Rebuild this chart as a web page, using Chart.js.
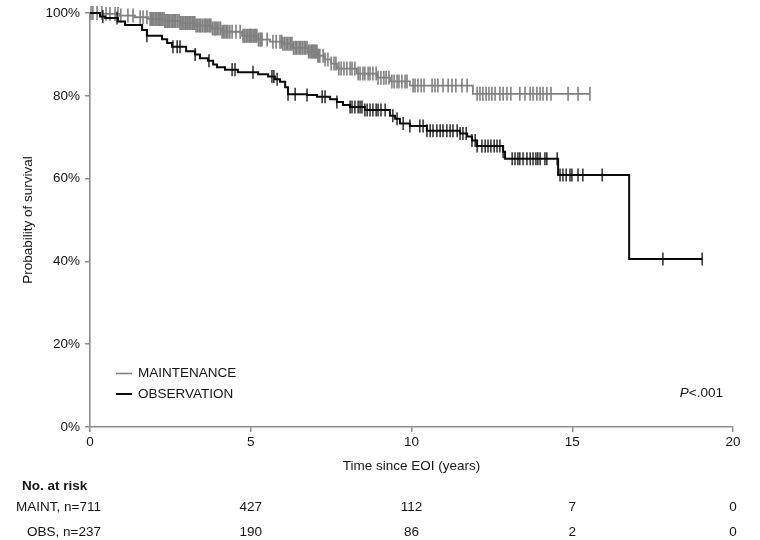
<!DOCTYPE html>
<html>
<head>
<meta charset="utf-8">
<script src="https://cdn.jsdelivr.net/npm/chart.js@4"></script>
<style>
  html, body { margin: 0; padding: 0; background: #fff; }
  #wrap { width: 760px; height: 540px; }
</style>
</head>
<body>
<div id="wrap"><canvas id="c" width="760" height="540"></canvas></div>
<script>
// ---- Data (time in years, survival in %) ----
const obsTimes = [0, 0.31, 0.47, 0.87, 1.09, 1.62, 1.77, 2.24, 2.40, 2.55, 2.99, 3.27, 3.42, 3.67, 3.83, 3.95, 4.20, 4.60, 5.23, 5.54, 5.75, 5.91, 6.07, 6.16, 6.75, 7.06, 7.47, 7.68, 7.87, 8.09, 8.55, 9.33, 9.49, 9.64, 9.95, 10.48, 11.51, 11.73, 11.88, 12.04, 12.85, 12.91, 14.56, 16.77, 19.04];
const obsSurv  = [100, 99.2, 98.8, 98.0, 97.1, 95.9, 94.5, 93.7, 92.8, 91.9, 90.8, 90.0, 89.1, 88.5, 87.6, 86.9, 86.3, 85.7, 85.2, 84.7, 84.0, 83.4, 82.1, 80.4, 80.2, 79.8, 79.2, 78.5, 77.8, 77.3, 76.6, 75.2, 74.5, 73.3, 72.7, 71.6, 70.9, 70.2, 69.2, 67.9, 66.5, 64.8, 60.9, 40.6, 40.6];
const obsCensor = [0.40, 0.84, 1.77, 2.58, 2.71, 2.80, 3.27, 3.70, 4.42, 4.51, 5.07, 5.66, 5.72, 5.82, 6.16, 6.38, 6.75, 7.22, 7.31, 7.68, 8.09, 8.15, 8.24, 8.34, 8.40, 8.46, 8.55, 8.62, 8.71, 8.80, 8.90, 8.96, 9.05, 9.18, 9.42, 9.55, 9.74, 9.95, 10.26, 10.36, 10.48, 10.58, 10.67, 10.79, 10.89, 10.98, 11.10, 11.20, 11.29, 11.42, 11.51, 11.60, 11.70, 11.88, 11.98, 12.04, 12.19, 12.29, 12.38, 12.47, 12.57, 12.66, 12.75, 12.85, 13.13, 13.22, 13.31, 13.37, 13.47, 13.59, 13.69, 13.78, 13.87, 13.93, 14.00, 14.15, 14.21, 14.53, 14.62, 14.71, 14.81, 14.93, 14.99, 15.18, 15.33, 15.93, 17.82, 19.04];

const maintTimes = [0, 0.40, 0.93, 1.40, 1.80, 2.33, 2.80, 3.27, 3.79, 4.11, 4.73, 5.23, 5.60, 6.00, 6.31, 6.78, 7.09, 7.31, 7.50, 7.68, 8.30, 8.93, 9.33, 9.95, 11.91, 15.55];
const maintSurv  = [100, 99.8, 99.4, 99.0, 98.6, 98.1, 97.6, 97.0, 96.3, 95.5, 94.5, 93.6, 93.1, 92.6, 91.6, 90.7, 89.7, 88.8, 87.8, 86.6, 85.4, 84.4, 83.5, 82.5, 80.5, 80.5];
const maintCensor = [0.03, 0.09, 0.22, 0.37, 0.50, 0.62, 0.78, 0.87, 0.96, 1.18, 1.34, 1.56, 1.65, 1.77, 1.87, 1.90, 1.93, 1.96, 1.99, 2.04, 2.08, 2.12, 2.15, 2.18, 2.21, 2.25, 2.30, 2.33, 2.36, 2.40, 2.43, 2.47, 2.52, 2.56, 2.61, 2.64, 2.67, 2.72, 2.77, 2.80, 2.83, 2.87, 2.92, 2.96, 2.99, 3.04, 3.08, 3.11, 3.14, 3.18, 3.23, 3.26, 3.30, 3.34, 3.39, 3.42, 3.45, 3.50, 3.55, 3.58, 3.61, 3.65, 3.70, 3.73, 3.76, 3.81, 3.86, 3.89, 3.92, 3.96, 4.01, 4.06, 4.11, 4.16, 4.20, 4.25, 4.29, 4.35, 4.42, 4.54, 4.67, 4.76, 4.79, 4.82, 4.87, 4.91, 4.95, 4.98, 5.01, 5.04, 5.09, 5.13, 5.16, 5.19, 5.24, 5.29, 5.32, 5.35, 5.51, 5.69, 5.79, 5.91, 5.96, 6.00, 6.05, 6.10, 6.14, 6.19, 6.24, 6.28, 6.33, 6.38, 6.42, 6.47, 6.52, 6.56, 6.61, 6.66, 6.70, 6.75, 6.80, 6.84, 6.88, 6.91, 6.94, 6.97, 7.00, 7.03, 7.06, 7.09, 7.12, 7.15, 7.25, 7.31, 7.40, 7.50, 7.59, 7.65, 7.74, 7.81, 7.90, 7.99, 8.09, 8.15, 8.24, 8.34, 8.40, 8.49, 8.55, 8.65, 8.71, 8.80, 8.90, 8.96, 9.05, 9.14, 9.21, 9.30, 9.39, 9.46, 9.55, 9.61, 9.70, 9.80, 9.86, 10.05, 10.11, 10.20, 10.30, 10.39, 10.64, 10.73, 10.82, 10.98, 11.14, 11.26, 11.38, 11.57, 11.73, 12.04, 12.13, 12.22, 12.32, 12.41, 12.50, 12.60, 12.75, 12.85, 12.97, 13.09, 13.37, 13.53, 13.69, 13.78, 13.90, 14.00, 14.09, 14.21, 14.34, 14.87, 15.18, 15.55];

const xTicks = [0, 5, 10, 15, 20];
const yTicks = [0, 20, 40, 60, 80, 100];
const riskTimes = [5, 10, 15, 20];
const maintRisk = [427, 112, 7, 0];
const obsRisk = [190, 86, 2, 0];
const seriesNames = ['MAINTENANCE', 'OBSERVATION'];
const riskNames = ['MAINT, n=711', 'OBS, n=237'];

// ---- Helpers ----
function stepAt(times, surv, t) {
  let v = surv[0];
  for (let i = 0; i < times.length; i++) { if (times[i] <= t) v = surv[i]; else break; }
  return v;
}
const toPts = (ts, ss) => ts.map((t, i) => ({x: t, y: ss[i]}));
const censorPts = (cs, ts, ss) => cs.map(t => ({x: t, y: stepAt(ts, ss, t)}));

const GRAY = '#808080';
const BLACK = '#0a0a0a';
const AXIS = '#8c8c8c';
const FONT = '"Liberation Sans", Arial, Helvetica, sans-serif';
const FS = 13.5;
const TXT = '#141414';

const overlay = {
  id: 'overlay',
  afterDraw(chart) {
    const ctx = chart.ctx;
    const xs = chart.scales.x;
    ctx.save();
    // legend
    ctx.lineWidth = 1.6; ctx.strokeStyle = GRAY;
    ctx.beginPath(); ctx.moveTo(116, 373.5); ctx.lineTo(132, 373.5); ctx.stroke();
    ctx.lineWidth = 2; ctx.strokeStyle = BLACK;
    ctx.beginPath(); ctx.moveTo(116, 394); ctx.lineTo(132, 394); ctx.stroke();
    ctx.fillStyle = TXT;
    ctx.font = FS + 'px ' + FONT;
    ctx.textBaseline = 'middle';
    ctx.textAlign = 'left';
    ctx.fillText(seriesNames[0], 138, 373.5);
    ctx.fillText(seriesNames[1], 138, 394);
    // P value
    ctx.textAlign = 'right';
    const rest = '<.001';
    const rw = ctx.measureText(rest).width;
    ctx.fillText(rest, 723, 393);
    ctx.font = 'italic ' + FS + 'px ' + FONT;
    ctx.fillText('P', 723 - rw, 393);
    // risk table
    ctx.font = 'bold ' + FS + 'px ' + FONT;
    ctx.textAlign = 'left';
    ctx.fillText('No. at risk', 22, 486);
    ctx.font = FS + 'px ' + FONT;
    ctx.textAlign = 'right';
    ctx.fillText(riskNames[0], 101, 507.5);
    ctx.fillText(riskNames[1], 101, 532.5);
    ctx.textAlign = 'center';
    riskTimes.forEach((t, i) => {
      const px = xs.getPixelForValue(t);
      ctx.fillText(String(maintRisk[i]), px, 507.5);
      ctx.fillText(String(obsRisk[i]), px, 532.5);
    });
    ctx.restore();
  }
};

new Chart(document.getElementById('c'), {
  type: 'line',
  data: {
    datasets: [
      { label: 'obs', data: toPts(obsTimes, obsSurv), stepped: true, borderColor: BLACK, borderWidth: 2, pointRadius: 0, fill: false, clip: false },
      { label: 'obsC', type: 'scatter', data: censorPts(obsCensor, obsTimes, obsSurv), pointStyle: 'line', rotation: 90, pointRadius: 6.5, borderColor: BLACK, pointBorderColor: BLACK, pointBorderWidth: 1.3, pointHoverRadius: 0, showLine: false, clip: false },
      { label: 'maint', data: toPts(maintTimes, maintSurv), stepped: true, borderColor: GRAY, borderWidth: 1.8, pointRadius: 0, fill: false, clip: false },
      { label: 'maintC', type: 'scatter', data: censorPts(maintCensor, maintTimes, maintSurv), pointStyle: 'line', rotation: 90, pointRadius: 7, borderColor: GRAY, pointBorderColor: GRAY, pointBorderWidth: 1.6, pointHoverRadius: 0, showLine: false, clip: false }
    ]
  },
  options: {
    responsive: false,
    animation: false,
    events: [],
    layout: { padding: { left: 0, right: 27, top: 8, bottom: 0 } },
    plugins: { legend: { display: false }, tooltip: { enabled: false } },
    scales: {
      x: {
        type: 'linear', min: 0, max: 20,
        afterFit: s => { s.height = 113; },
        afterBuildTicks: s => { s.ticks = xTicks.map(v => ({value: v})); },
        ticks: { color: TXT, font: { family: FONT, size: FS }, padding: 2, maxRotation: 0 },
        grid: { display: true, drawOnChartArea: false, drawTicks: true, tickLength: 5, color: AXIS, lineWidth: 1.5 },
        border: { display: true, color: AXIS, width: 1.6 },
        title: { display: true, text: 'Time since EOI (years)', color: TXT, font: { family: FONT, size: FS }, padding: { top: 0, bottom: 66 } }
      },
      y: {
        type: 'linear', min: 0, max: 100,
        afterFit: s => { s.width = 90; },
        afterBuildTicks: s => { s.ticks = yTicks.map(v => ({value: v})); },
        ticks: { color: TXT, font: { family: FONT, size: FS }, padding: 5, callback: v => v + '%' },
        grid: { display: true, drawOnChartArea: false, drawTicks: true, tickLength: 5, color: AXIS, lineWidth: 1.5 },
        border: { display: true, color: AXIS, width: 1.6 },
        title: { display: true, text: 'Probability of survival', color: TXT, font: { family: FONT, size: FS }, padding: { top: 20, bottom: 0 } }
      }
    }
  },
  plugins: [overlay]
});
</script>
</body>
</html>
